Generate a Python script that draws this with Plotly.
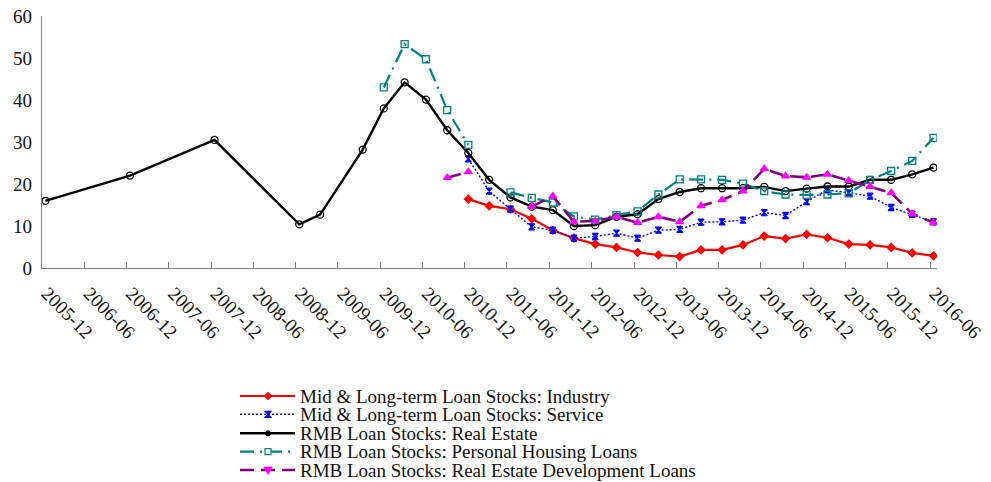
import pandas as pd
import plotly.graph_objects as go

# ---------------- data ----------------
re_dates = ["2005-12", "2006-12", "2007-12", "2008-12", "2009-03", "2009-09",
            "2009-12", "2010-03", "2010-06", "2010-09", "2010-12",
            "2011-03", "2011-06", "2011-09", "2011-12", "2012-03", "2012-06",
            "2012-09", "2012-12", "2013-03", "2013-06", "2013-09", "2013-12",
            "2014-03", "2014-06", "2014-09", "2014-12", "2015-03", "2015-06",
            "2015-09", "2015-12", "2016-03", "2016-06"]
real_estate = [16.0, 22.0, 30.5, 10.4, 12.7, 28.2,
               38.0, 44.2, 40.1, 32.8, 27.4,
               21.0, 16.8, 14.6, 13.8, 10.0, 10.2,
               12.2, 12.8, 16.4, 18.1, 19.0, 19.0,
               19.0, 19.3, 18.3, 18.9, 19.4, 19.4,
               21.0, 21.0, 22.3, 23.9]

ph_dates = ["2009-12", "2010-03", "2010-06", "2010-09", "2010-12",
            "2011-03", "2011-06", "2011-09", "2011-12", "2012-03", "2012-06",
            "2012-09", "2012-12", "2013-03", "2013-06", "2013-09", "2013-12",
            "2014-03", "2014-06", "2014-09", "2014-12", "2015-03", "2015-06",
            "2015-09", "2015-12", "2016-03", "2016-06"]
personal_housing = [43.0, 53.3, 49.7, 37.6, 29.3,
                    None, 18.0, 16.7, 15.6, 12.3, 11.5,
                    12.6, 13.5, 17.5, 21.1, 21.1, 21.0,
                    20.1, 18.3, 17.5, 17.4, 17.5, 17.8,
                    21.0, 23.1, 25.5, 31.0]

dev_dates = ["2010-09", "2010-12",
             "2011-03", "2011-06", "2011-09", "2011-12", "2012-03", "2012-06",
             "2012-09", "2012-12", "2013-03", "2013-06", "2013-09", "2013-12",
             "2014-03", "2014-06", "2014-09", "2014-12", "2015-03", "2015-06",
             "2015-09", "2015-12", "2016-03", "2016-06"]
dev_loans = [21.5, 22.9,
             None, None, 14.6, 17.1, 11.0, 11.2,
             12.2, 10.8, 12.2, 11.0, 14.8, 16.2,
             18.3, 23.6, 21.9, 21.6, 22.3, 20.8,
             19.4, 17.9, 12.9, 10.8]

mlt_dates = ["2010-12",
             "2011-03", "2011-06", "2011-09", "2011-12", "2012-03", "2012-06",
             "2012-09", "2012-12", "2013-03", "2013-06", "2013-09", "2013-12",
             "2014-03", "2014-06", "2014-09", "2014-12", "2015-03", "2015-06",
             "2015-09", "2015-12", "2016-03", "2016-06"]
industry = [16.4,
            14.8, 14.0, 11.7, 9.0, 7.1, 5.7,
            4.9, 3.7, 3.1, 2.7, 4.3, 4.3,
            5.5, 7.6, 7.0, 8.0, 7.2, 5.7,
            5.5, 4.9, 3.6, 2.9]
service = [26.0,
           18.3, 14.0, 9.8, 9.0, 7.1, 7.5,
           8.3, 7.1, 9.0, 9.2, 10.9, 11.0,
           11.4, 13.2, 12.5, 15.8, 18.6, 17.9,
           17.1, 14.4, 12.8, 11.0]

tick_labels = ["2005-12", "2006-06", "2006-12", "2007-06", "2007-12", "2008-06",
               "2008-12", "2009-06", "2009-12", "2010-06", "2010-12", "2011-06",
               "2011-12", "2012-06", "2012-12", "2013-06", "2013-12", "2014-06",
               "2014-12", "2015-06", "2015-12", "2016-06"]

names = ["Mid & Long-term Loan Stocks: Industry",
         "Mid & Long-term Loan Stocks: Service",
         "RMB Loan Stocks: Real Estate",
         "RMB Loan Stocks: Personal Housing Loans",
         "RMB Loan Stocks: Real Estate Development Loans"]


def mid(ds):
    # place each monthly observation in the middle of its month
    return [pd.Timestamp(d + "-01") + pd.Timedelta(days=15) for d in ds]


FONT = "Liberation Serif, Times New Roman, serif"
TXT = "#111111"
FS = 19

styles = [
    dict(x=mid(mlt_dates), y=industry, color="#FF0000", dash="solid", width=2.2,
         msym="diamond", msize=6, mcolor="#FF0000", mline="#FF0000"),
    dict(x=mid(mlt_dates), y=service, color="#0000FF", dash="2px,2px", width=1.4,
         msym="hourglass", msize=6, mcolor="#0000FF", mline="#0000FF"),
    dict(x=mid(re_dates), y=real_estate, color="#000000", dash="solid", width=2.4,
         msym="circle-open", msize=7, mcolor="#000000", mline="#000000"),
    dict(x=mid(ph_dates), y=personal_housing, color="#008080", dash="14px,6px,2px,6px", width=2.2,
         msym="square-open", msize=7, mcolor="#008080", mline="#008080"),
    dict(x=mid(dev_dates), y=dev_loans, color="#800080", dash="14px,7px", width=2.6,
         msym="triangle-up", msize=7, mcolor="#FF00FF", mline="#FF00FF"),
]

fig = go.Figure()
for name, s in zip(names, styles):
    fig.add_trace(go.Scatter(
        x=s["x"], y=s["y"], name=name, mode="lines+markers",
        connectgaps=False, showlegend=False,
        line=dict(color=s["color"], dash=s["dash"], width=s["width"]),
        marker=dict(symbol=s["msym"], size=s["msize"], color=s["mcolor"],
                    line=dict(color=s["mline"], width=1.3)),
    ))

# ---------------- layout ----------------
W, H = 991, 482
ML, MR, MT, MB = 42, 54, 16, 214
PW, PH = W - ML - MR, H - MT - MB


def px_x(px):
    return (px - ML) / PW


def px_y(py):
    return (H - MB - py) / PH


tickvals = [pd.Timestamp(t + "-01") for t in tick_labels]

fig.update_layout(
    width=W, height=H,
    margin=dict(l=ML, r=MR, t=MT, b=MB, autoexpand=False),
    paper_bgcolor="white", plot_bgcolor="white",
    font=dict(family=FONT, size=FS, color=TXT),
    xaxis=dict(
        type="date", automargin=False,
        range=[pd.Timestamp("2005-12-01"), pd.Timestamp("2016-07-01")],
        tickvals=tickvals, ticktext=tick_labels, tickangle=45,
        ticks="inside", ticklen=6, tickcolor="#808080", tickwidth=1,
        ticklabelstandoff=6, ticklabelshift=5,
        showline=True, linecolor="#808080", linewidth=1.2,
        showgrid=False, zeroline=False,
        tickfont=dict(family=FONT, size=FS, color=TXT),
    ),
    yaxis=dict(
        range=[0, 60], tickvals=[0, 10, 20, 30, 40, 50, 60], automargin=False,
        showline=True, linecolor="#808080", linewidth=1.2,
        ticks="", showgrid=False, zeroline=False, ticklabelstandoff=5,
        tickfont=dict(family=FONT, size=FS, color=TXT),
    ),
)

# ---------------- manual legend ----------------
row_y = [396, 414.3, 433.3, 451.7, 470]
lx0, lx1, ltext, lmark = 240, 295, 299, 268
shapes = []
annotations = []
marker_paths = {
    "diamond": "M0,-3.5 L3.5,0 L0,3.5 L-3.5,0 Z",
    "hourglass": "M-3,-3 L3,-3 L-3,3 L3,3 Z",
    "square-open": "M-3,-3 L3,-3 L3,3 L-3,3 Z",
    "triangle-up": "M0,-4 L3.6,2.6 L-3.6,2.6 Z",
}
for name, s, py in zip(names, styles, row_y):
    yp = px_y(py)
    shapes.append(dict(type="line", xref="paper", yref="paper",
                       x0=px_x(lx0), x1=px_x(lx1), y0=yp, y1=yp,
                       line=dict(color=s["color"], width=s["width"], dash=s["dash"])))
    fill = "white" if s["msym"].endswith("open") else s["mcolor"]
    if s["msym"] == "circle-open":
        shapes.append(dict(type="circle", xref="paper", yref="paper",
                           xsizemode="pixel", ysizemode="pixel",
                           xanchor=px_x(lmark), yanchor=yp,
                           x0=-2.5, x1=2.5, y0=-2.5, y1=2.5,
                           fillcolor="#000000", line=dict(color="#000000", width=1)))
    else:
        shapes.append(dict(type="path", xref="paper", yref="paper",
                           xsizemode="pixel", ysizemode="pixel",
                           xanchor=px_x(lmark), yanchor=yp,
                           path=marker_paths[s["msym"]],
                           fillcolor=fill, line=dict(color=s["mline"], width=1.2)))
    annotations.append(dict(text=name, xref="paper", yref="paper",
                            x=px_x(ltext), y=yp, xanchor="left", yanchor="middle",
                            showarrow=False, borderpad=0,
                            font=dict(family=FONT, size=FS, color=TXT)))

fig.update_layout(shapes=shapes, annotations=annotations)

fig.write_html(
    "out.html",
    config={"displayModeBar": False},
    post_script="document.body.style.margin='0';document.body.style.padding='0';"
                "document.body.style.overflow='hidden';",
)
